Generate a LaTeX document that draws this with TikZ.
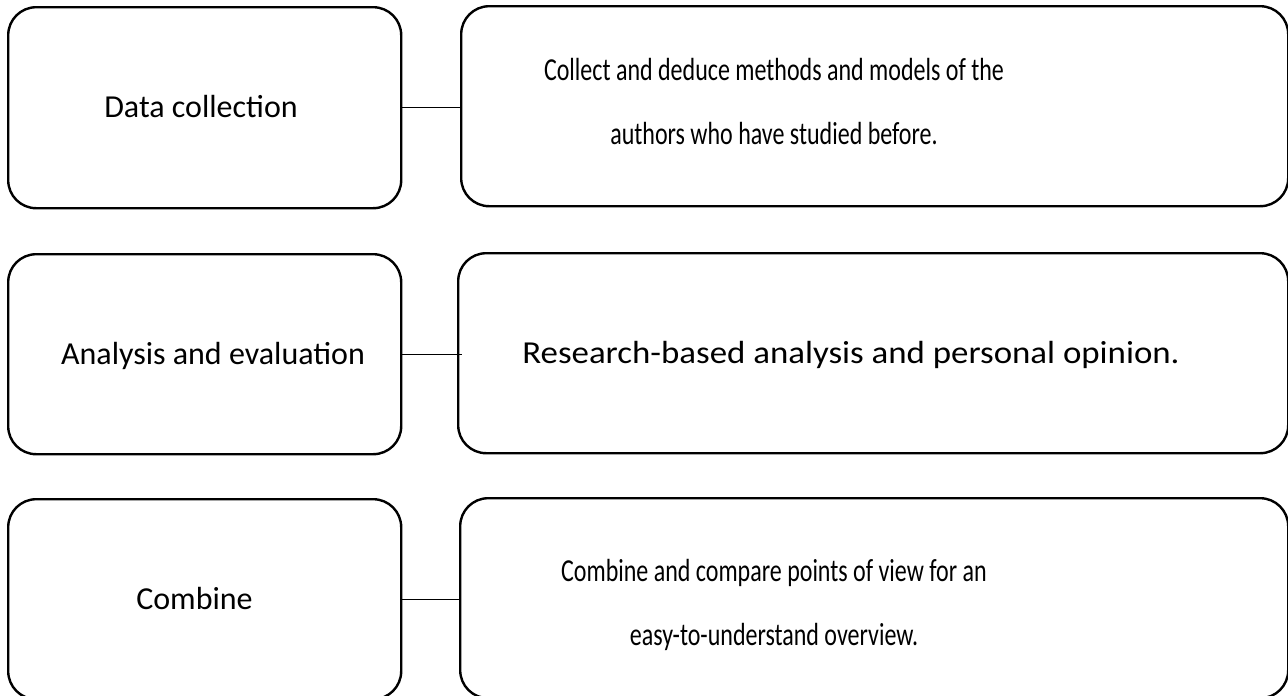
\documentclass[tikz,border=0pt]{standalone}
\usepackage{fontspec}
\setmainfont{Carlito}
\newfontfamily\narrowfont[FakeStretch=0.75]{Carlito}
\newfontfamily\widefont[FakeStretch=1.09]{Carlito}
\begin{document}
\begin{tikzpicture}[x=1pt,y=-1pt,
  box/.style={draw, line width=2.4pt, rounded corners=28pt, inner sep=0pt, anchor=north west},
  link/.style={draw, line width=1.3pt},
  lbl/.style={font=\fontsize{32}{64}\selectfont, align=center, inner sep=0pt},
  desc/.style={lbl, font=\fontsize{32}{64}\selectfont\narrowfont},
  wdesc/.style={lbl, font=\fontsize{32}{64}\selectfont\widefont}]
\useasboundingbox (0,0) rectangle (1288,696);

% left column: step names
\node[box, minimum width=393pt, minimum height=201pt] (s1) at (7,6) {};
\node[box, minimum width=393pt, minimum height=200pt] (s2) at (7,253) {};
\node[box, minimum width=393pt, minimum height=200pt] (s3) at (7,498) {};

% right column: descriptions
\node[box, minimum width=827pt, minimum height=200pt] (d1) at (460,5) {};
\node[box, minimum width=830pt, minimum height=200pt] (d2) at (457,252) {};
\node[box, minimum width=828pt, minimum height=200pt] (d3) at (459,497) {};

% texts
\node[lbl] (s1t) at (201,107) {Data collection};
\node[lbl] (s2t) at (213,356) {Analysis and evaluation};
\node[lbl] (s3t) at (194.5,598) {Combine};
\node[desc] (d1t) at (774,102) {Collect and deduce methods and models of the\\authors who have studied before.};
\node[wdesc] (d2t) at (851,355) {Research-based analysis and personal opinion.};
\node[desc] (d3t) at (774,605) {Combine and compare points of view for an\\easy-to-understand overview.};

% connectors
\draw[link] (s1.east) -- (s1.east -| d1.west);
\draw[link, shorten >=-5pt] (s2.east) -- (s2.east -| d2.west);
\draw[link] (s3.east) -- (s3.east -| d3.west);
\end{tikzpicture}
\end{document}
